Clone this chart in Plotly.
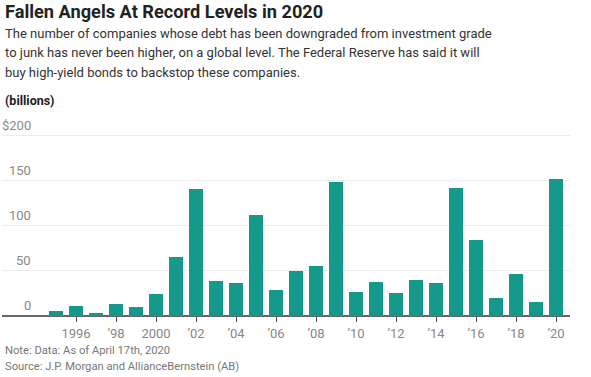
import plotly.graph_objects as go

years = list(range(1995, 2021))
values = [5.5, 10.6, 2.9, 13.6, 9.5, 23.9, 65.3, 140.5, 38.7, 36.1, 111.7, 28.8, 49.8,
          55.3, 148.6, 26.9, 37.9, 25.8, 39.8, 36.1, 141.6, 84.4, 19.9, 47.1, 15.5, 151.5]
x_tick_vals = [1996, 1998, 2000, 2002, 2004, 2006, 2008, 2010, 2012, 2014, 2016, 2018, 2020]
x_tick_text = ["1996", "\u201998", "2000", "\u201902", "\u201904", "\u201906", "\u201908",
               "\u201910", "\u201912", "\u201914", "\u201916", "\u201918", "\u201920"]
y_tick_vals = [0, 50, 100, 150, 200]
y_tick_text = ["0", "50", "100", "150", "$200"]

title = "Fallen Angels At Record Levels in 2020"
subtitle_lines = [
    "The number of companies whose debt has been downgraded from investment grade",
    "to junk has never been higher, on a global level. The Federal Reserve has said it will",
    "buy high-yield bonds to backstop these companies.",
]
unit_label = "(billions)"
note = "Note: Data: As of April 17th, 2020"
source = "Source: J.P. Morgan and AllianceBernstein (AB)"

FONT = "Roboto"
W, H = 591, 377
ML, MR, MT, MB = 2, 21, 133.0, 60.7
PH = H - MT - MB

def py(pix):
    return (H - MB - pix) / PH

fig = go.Figure()
fig.add_trace(go.Bar(x=years, y=values, marker=dict(color="#14998a", line=dict(width=0)),
                     width=0.67, hoverinfo="x+y"))

ann = []
ann.append(dict(text="<b>" + title + "</b>", x=0, xref="paper", xshift=1, xanchor="left",
                y=py(11), yref="paper", yanchor="middle", showarrow=False,
                font=dict(family=FONT, size=18.2, color="#1e2424")))
for i, line in enumerate(subtitle_lines):
    ann.append(dict(text=line, x=0, xref="paper", xshift=1, xanchor="left",
                    y=py(33 + 19.5 * i), yref="paper", yanchor="middle", showarrow=False,
                    font=dict(family=FONT, size=13, color="#333333")))
ann.append(dict(text="<b>" + unit_label + "</b>", x=0, xref="paper", xshift=1, xanchor="left",
                y=py(100), yref="paper", yanchor="middle", showarrow=False,
                font=dict(family=FONT, size=12.5, color="#222222")))
ann.append(dict(text=note, x=0, xref="paper", xshift=1, xanchor="left",
                y=py(351), yref="paper", yanchor="middle", showarrow=False,
                font=dict(family=FONT, size=11.2, color="#777777")))
ann.append(dict(text=source, x=0, xref="paper", xshift=1, xanchor="left",
                y=py(367), yref="paper", yanchor="middle", showarrow=False,
                font=dict(family=FONT, size=11.2, color="#777777")))
for v, t in zip(y_tick_vals, y_tick_text):
    ann.append(dict(text=t, x=0, xref="paper", xshift=33 - ML, xanchor="right",
                    y=v, yref="y", yanchor="bottom", yshift=1, showarrow=False,
                    font=dict(family=FONT, size=13, color="#888888")))

fig.update_layout(
    width=W, height=H,
    margin=dict(l=ML, r=MR, t=MT, b=MB, pad=0),
    paper_bgcolor="white", plot_bgcolor="white",
    showlegend=False, bargap=0,
    annotations=ann,
    xaxis=dict(range=[1992.3, 2020.7], tickmode="array", tickvals=x_tick_vals,
               ticktext=x_tick_text, ticks="outside", ticklen=5, tickcolor="#444444",
               tickwidth=1.3, showline=False, showgrid=False, zeroline=False,
               tickfont=dict(family=FONT, size=13, color="#888888")),
    yaxis=dict(range=[0, 203], tickmode="array", tickvals=y_tick_vals, showticklabels=False,
               showgrid=True, gridcolor="#ececec", gridwidth=1, zeroline=True,
               zerolinecolor="#666666", zerolinewidth=1.5, showline=False),
)

fig.write_html("out.html", config={"displayModeBar": False},
               post_script="document.body.style.margin='0px';document.body.style.overflow='hidden';")
